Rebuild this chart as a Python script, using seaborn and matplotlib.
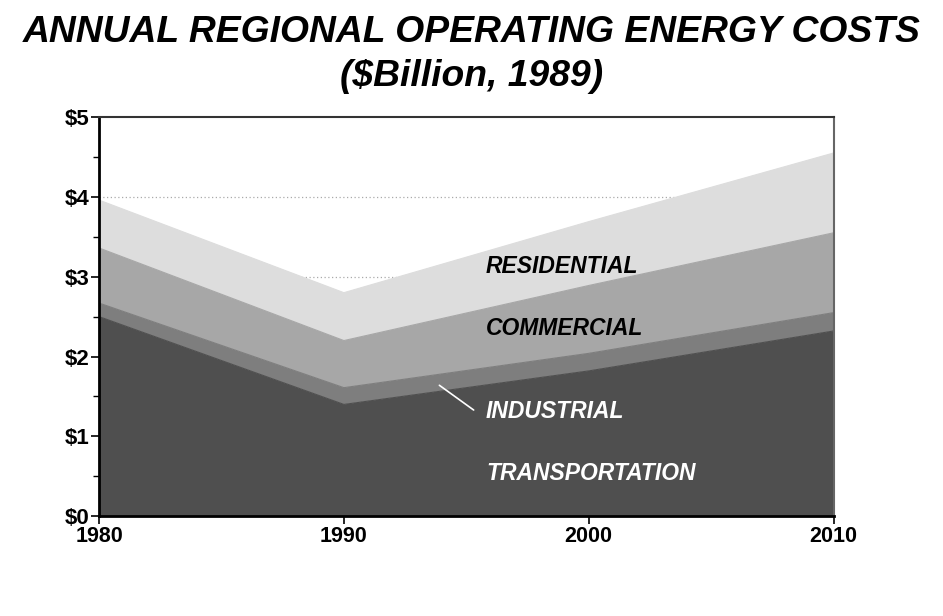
import numpy as np
import pandas as pd
import seaborn as sns
import matplotlib.pyplot as plt

years = [1980, 1990, 2000, 2010]
# cost per sector ($ billion, 1989)
transportation = [2.50, 1.40, 1.82, 2.32]
industrial = [0.17, 0.21, 0.22, 0.23]
commercial = [0.69, 0.59, 0.85, 1.00]
residential = [0.60, 0.60, 0.80, 1.00]

sectors = ['TRANSPORTATION', 'INDUSTRIAL', 'COMMERCIAL', 'RESIDENTIAL']
colors = ['#4f4f4f', '#7e7e7e', '#a7a7a7', '#dddddd']
y_ticks = [0, 1, 2, 3, 4, 5]
y_labels = ['$0', '$1', '$2', '$3', '$4', '$5']

sns.set_style("white")
plt.rcParams['font.family'] = ['Liberation Sans', 'DejaVu Sans']
plt.rcParams['text.color'] = 'black'
plt.rcParams['xtick.color'] = 'black'
plt.rcParams['ytick.color'] = 'black'

df = pd.DataFrame({'Year': years, 'TRANSPORTATION': transportation,
                   'INDUSTRIAL': industrial, 'COMMERCIAL': commercial,
                   'RESIDENTIAL': residential})
cum = df[sectors].cumsum(axis=1)

fig = plt.figure(figsize=(9.43, 6.16), dpi=100)
ax = fig.add_axes([0.105, 0.162, 0.779, 0.648])

# dotted grid behind the bands
for v in y_ticks[1:5]:
    ax.axhline(v, color='#aaaaaa', lw=0.9, ls=(0, (1, 2)), zorder=0)

ax.stackplot(df['Year'], *[df[s] for s in sectors], colors=colors, zorder=1,
             edgecolor='none')
for s, c in zip(sectors, colors):
    sns.lineplot(x=df['Year'], y=cum[s], color=c, lw=0.8, ax=ax, zorder=2)

ax.set_xlim(1980, 2010)
ax.set_ylim(0, 5)
ax.set_xticks(years)
ax.set_xticklabels([str(y) for y in years], fontsize=15.5, fontweight='bold')
ax.set_yticks(y_ticks)
ax.set_yticklabels(y_labels, fontsize=16, fontweight='bold')
ax.set_yticks(np.arange(0.5, 5, 1), minor=True)
ax.tick_params(axis='both', which='major', direction='out', length=6, width=1.2,
               color='black', pad=1, left=True, bottom=True)
ax.tick_params(axis='y', which='minor', direction='out', length=4, width=1,
               left=True)
ax.set_xlabel('')
ax.set_ylabel('')

for side in ['left', 'bottom']:
    ax.spines[side].set_color('black')
    ax.spines[side].set_linewidth(2)
ax.spines['top'].set_color('#333333')
ax.spines['top'].set_linewidth(1.5)
ax.spines['right'].set_color('#666666')
ax.spines['right'].set_linewidth(1.5)

lab = dict(fontsize=16.5, fontweight='bold', style='italic', va='center', ha='left')
ax.text(1995.8, 3.13, 'RESIDENTIAL', color='black', **lab)
ax.text(1995.8, 2.35, 'COMMERCIAL', color='black', **lab)
ax.text(1995.8, 1.31, 'INDUSTRIAL', color='white', **lab)
ax.text(1995.8, 0.54, 'TRANSPORTATION', color='white', **lab)
ax.plot([1993.9, 1995.3], [1.64, 1.33], color='white', lw=1.2, zorder=3)

fig.text(0.5, 0.947, 'ANNUAL REGIONAL OPERATING ENERGY COSTS', ha='center',
         va='center', fontsize=26.8, fontweight='bold', style='italic')
fig.text(0.5, 0.876, '($Billion, 1989)', ha='center', va='center',
         fontsize=26.8, fontweight='bold', style='italic')

fig.savefig('out.png', dpi=100)
